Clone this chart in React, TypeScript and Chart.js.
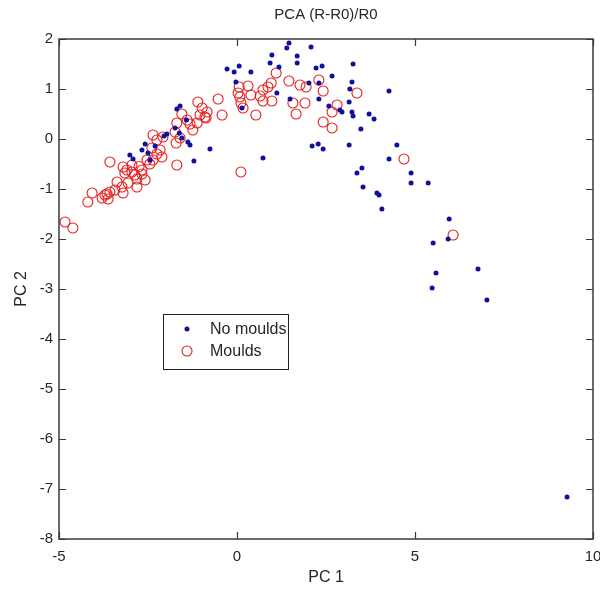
import React, { useEffect, useRef } from "react";
import { Chart, registerables } from "chart.js";

Chart.register(...registerables);

// ---- Data ----
const chartTitle = "PCA (R-R0)/R0";
const xAxisTitle = "PC 1";
const yAxisTitle = "PC 2";
const seriesLabels = ["No moulds", "Moulds"];
const xTickValues = [-5, 0, 5, 10];
const yTickValues = [2, 1, 0, -1, -2, -3, -4, -5, -6, -7, -8];

const noMouldsPC1 = [
  4.89, 4.89, 5.37, 5.96, 5.93, 5.51, 6.77, 5.59, 5.48, 7.02, 9.27,
  3.26, 3.23, 3.17, 4.27, 3.15, 2.95, 3.23, 3.26, 3.71, 3.85, 3.48, 3.15, 4.49, 4.27, 3.51, 3.37, 3.54, 3.93, 3.99, 4.07,
  1.46, 1.40, 2.08, 0.98, 1.69, 1.69, 0.93, 1.18, 2.22, 2.39, 2.67, 2.02, 2.30, 1.12, 1.49, 2.30, 2.58, 2.89, 2.11, 2.28, 2.42,
  -0.28, -0.08, 0.06, 0.39, -0.03, 0.14, 0.73, -0.76, -1.32, -1.38, -1.21, -1.69, -1.60, -1.42, -1.55, -1.62, -2.05, -1.97,
  -2.58, -2.30, -2.67, -2.50, -2.44, -3.01, -2.92, -1.74,
];
const noMouldsPC2 = [
  -0.68, -0.88, -0.88, -1.60, -2.00, -2.08, -2.60, -2.68, -2.98, -3.22, -7.16,
  1.50, 1.14, 1.00, 0.96, 0.74, 0.54, 0.54, 0.46, 0.50, 0.40, 0.20, -0.12, -0.12, -0.40, -0.58, -0.68, -0.96, -1.08, -1.12, -1.40,
  1.92, 1.82, 1.84, 1.68, 1.66, 1.52, 1.52, 1.44, 1.42, 1.46, 1.26, 1.12, 1.12, 0.92, 0.80, 0.80, 0.66, 0.58, -0.14, -0.10, -0.20,
  1.40, 1.34, 1.46, 1.34, 1.14, 0.62, -0.38, -0.20, -0.12, -0.06, -0.44, 0.60, 0.66, 0.38, 0.02, 0.12, 0.06, 0.10,
  -0.10, -0.14, -0.22, -0.28, -0.42, -0.32, -0.40, 0.22,
];

const mouldsPC1 = [
  4.69, 6.07, 3.37, 2.81, 2.67, 2.42, 2.67,
  1.10, 1.46, 2.30, 0.96, 1.77, 1.94, 2.42, 0.98, 1.57, 1.91, 1.66,
  0.06, 0.31, 0.03, 0.08, 0.39, 0.65, 0.73, 0.87, 0.73, 0.11, 0.17, 0.53, 0.11,
  -0.53, -0.42, -1.10, -0.98, -0.84, -0.90,
  -1.69, -1.40, -1.12, -1.04, -0.87, -1.24, -1.74, -1.60, -1.71, -1.55, -1.32,
  -2.36, -2.08, -2.25, -2.39, -2.16, -2.11, -2.36, -2.53, -1.69, -2.45, -2.25,
  -2.95, -3.09, -2.87, -2.67, -2.75,
  -3.57, -3.20, -3.15, -2.95, -2.81, -2.67, -2.58, -3.06, -3.23, -3.37, -3.43, -3.57, -3.71, -3.79,
  -4.07, -4.19, -3.20, -2.81, -4.83, -4.61, -3.65, -3.62,
];
const mouldsPC2 = [
  -0.40, -1.92, 0.92, 0.68, 0.54, 0.34, 0.22,
  1.32, 1.16, 1.18, 1.12, 1.08, 1.04, 0.96, 0.76, 0.72, 0.72, 0.50,
  1.04, 1.06, 0.92, 0.84, 0.88, 0.86, 0.98, 1.04, 0.76, 0.72, 0.62, 0.48, -0.66,
  0.80, 0.48, 0.74, 0.62, 0.54, 0.44,
  0.32, 0.38, 0.32, 0.48, 0.42, 0.18, 0.14, 0.02, -0.08, 0.50, 0.30,
  0.08, 0.04, -0.02, -0.18, -0.22, -0.36, -0.42, -0.42, -0.52, -0.50, -0.30,
  -0.52, -0.62, -0.72, -0.62, -0.55,
  -0.46, -0.56, -0.68, -0.66, -0.80, -0.70, -0.82, -0.88, -0.96, -0.86, -1.02, -1.06, -1.12, -1.18,
  -1.08, -1.26, -1.08, -0.96, -1.66, -1.78, -1.10, -1.20,
];

// ---- Styling ----
const FONT = '"Liberation Sans", Arial, Helvetica, sans-serif';
const BLUE = "#10109e";
const RED = "#e61e1e";
const TEXT = "#262626";
const FRAME = "#3a3a3a";

export default function App() {
  const ref = useRef<HTMLCanvasElement | null>(null);

  useEffect(() => {
    document.body.style.margin = "0";
    const canvas = ref.current;
    if (!canvas) return;

    const framePlugin = {
      id: "matlabFrame",
      afterDraw(chart: any) {
        const { ctx, chartArea: a, scales } = chart;
        ctx.save();
        // box
        ctx.strokeStyle = FRAME;
        ctx.lineWidth = 1.5;
        ctx.strokeRect(a.left, a.top, a.right - a.left, a.bottom - a.top);
        // inward ticks
        const tl = 7;
        ctx.lineWidth = 1.2;
        ctx.beginPath();
        xTickValues.forEach((v) => {
          const px = Math.round(scales.x.getPixelForValue(v)) + 0.5;
          ctx.moveTo(px, a.bottom);
          ctx.lineTo(px, a.bottom - tl);
          ctx.moveTo(px, a.top);
          ctx.lineTo(px, a.top + tl);
        });
        yTickValues.forEach((v) => {
          const py = Math.round(scales.y.getPixelForValue(v)) + 0.5;
          ctx.moveTo(a.left, py);
          ctx.lineTo(a.left + tl, py);
          ctx.moveTo(a.right, py);
          ctx.lineTo(a.right - tl, py);
        });
        ctx.stroke();

        // titles
        const cx = (a.left + a.right) / 2;
        ctx.fillStyle = TEXT;
        ctx.textAlign = "center";
        ctx.textBaseline = "middle";
        ctx.font = `15px ${FONT}`;
        ctx.fillText(chartTitle, cx, 15);
        ctx.font = `16px ${FONT}`;
        ctx.fillText(xAxisTitle, cx, 578);
        ctx.save();
        ctx.translate(22, (a.top + a.bottom) / 2);
        ctx.rotate(-Math.PI / 2);
        ctx.fillText(yAxisTitle, 0, 0);
        ctx.restore();

        // legend
        const lx = 163, ly = 314, lw = 125, lh = 55;
        ctx.fillStyle = "#ffffff";
        ctx.fillRect(lx, ly, lw, lh);
        ctx.strokeStyle = "#202020";
        ctx.lineWidth = 1;
        ctx.strokeRect(lx + 0.5, ly + 0.5, lw, lh);
        ctx.fillStyle = BLUE;
        ctx.beginPath();
        ctx.arc(187, 329, 2.5, 0, Math.PI * 2);
        ctx.fill();
        ctx.strokeStyle = RED;
        ctx.lineWidth = 1.1;
        ctx.beginPath();
        ctx.arc(187, 351, 5, 0, Math.PI * 2);
        ctx.stroke();
        ctx.fillStyle = TEXT;
        ctx.textAlign = "left";
        ctx.font = `16px ${FONT}`;
        ctx.fillText(seriesLabels[0], 210, 330);
        ctx.fillText(seriesLabels[1], 210, 352);
        ctx.restore();
      },
    };

    const chart = new Chart(canvas, {
      type: "scatter",
      data: {
        datasets: [
          {
            label: seriesLabels[0],
            data: noMouldsPC1.map((x, i) => ({ x, y: noMouldsPC2[i] })),
            pointStyle: "circle",
            pointRadius: 2.5,
            backgroundColor: BLUE,
            borderColor: BLUE,
            borderWidth: 0,
          },
          {
            label: seriesLabels[1],
            data: mouldsPC1.map((x, i) => ({ x, y: mouldsPC2[i] })),
            pointStyle: "circle",
            pointRadius: 5,
            backgroundColor: "rgba(0,0,0,0)",
            borderColor: RED,
            borderWidth: 1.1,
          },
        ],
      },
      options: {
        responsive: false,
        animation: false,
        devicePixelRatio: 1,
        layout: { padding: { top: 39, right: 7, left: 0, bottom: 0 } },
        plugins: {
          legend: { display: false },
          title: { display: false },
          tooltip: { enabled: false },
        },
        scales: {
          x: {
            type: "linear",
            min: -5,
            max: 10,
            afterBuildTicks: (s: any) => {
              s.ticks = xTickValues.map((v) => ({ value: v }));
            },
            afterFit: (s: any) => {
              s.height = 52;
              s.paddingLeft = 0;
              s.paddingRight = 0;
            },
            grid: { display: false, drawTicks: false, tickLength: 0 },
            border: { display: false },
            ticks: {
              font: { family: FONT, size: 15 },
              color: TEXT,
              padding: 9,
              maxRotation: 0,
              autoSkip: false,
            },
          },
          y: {
            type: "linear",
            min: -8,
            max: 2,
            afterBuildTicks: (s: any) => {
              s.ticks = yTickValues.map((v) => ({ value: v }));
            },
            afterFit: (s: any) => {
              s.width = 59;
              s.paddingTop = 0;
              s.paddingBottom = 0;
            },
            grid: { display: false, drawTicks: false, tickLength: 0 },
            border: { display: false },
            ticks: {
              font: { family: FONT, size: 15 },
              color: TEXT,
              padding: 6,
              autoSkip: false,
            },
          },
        },
      },
      plugins: [framePlugin],
    } as any);

    return () => chart.destroy();
  }, []);

  return (
    <canvas
      ref={ref}
      width={600}
      height={591}
      style={{ display: "block", width: 600, height: 591 }}
    />
  );
}
